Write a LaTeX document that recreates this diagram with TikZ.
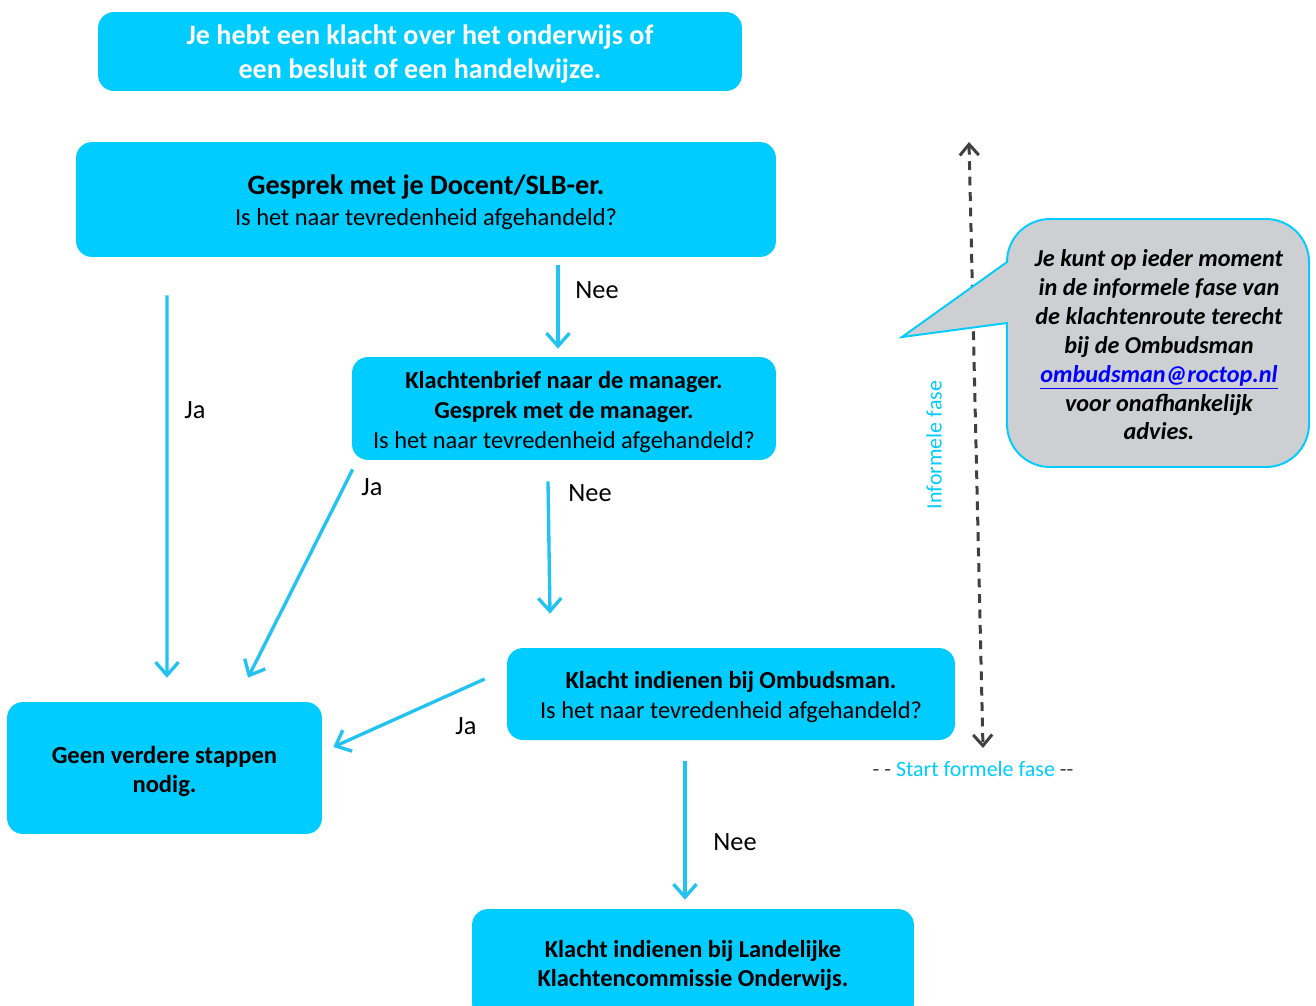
\documentclass[tikz,border=0pt]{standalone}
\usepackage{fontspec}
\setmainfont{Carlito}
\usetikzlibrary{arrows.meta,calc}

\definecolor{boxcyan}{HTML}{00CCFF}
\definecolor{arrowcyan}{HTML}{22C2F2}
\definecolor{callgray}{HTML}{CECFD2}
\definecolor{dashgray}{HTML}{404040}
\definecolor{linkblue}{HTML}{0000FF}

\newcommand{\lowertext}[2]{\raisebox{-#1}[\height][\depth]{\begin{tabular}{@{}c@{}}#2\end{tabular}}}

\tikzset{
  stepbox/.style={
    rectangle, rounded corners=0.32cm,
    fill=boxcyan, inner sep=0pt,
    minimum width=#1, align=center,
    font=\fontsize{13.9}{17.2}\selectfont
  },
  stepbox/.default=8cm,
  flow/.style={-{Straight Barb[length=0.26cm,width=0.46cm]}, line width=1.9pt, arrowcyan},
  phasearrow/.style={{Straight Barb[length=0.22cm,width=0.38cm]}-{Straight Barb[length=0.22cm,width=0.38cm]},
    line width=1.7pt, dashgray, dash pattern=on 5pt off 3.8pt},
  choice/.style={font=\fontsize{15}{17}\selectfont, text=black},
  phase/.style={font=\fontsize{12.5}{14}\selectfont, text=boxcyan},
  callout/.style={fill=callgray, draw=boxcyan, line width=1.1pt},
  callouttext/.style={align=center, font=\fontsize{13.8}{16.4}\selectfont\bfseries\itshape}
}

\begin{document}
\begin{tikzpicture}[x=0.02cm, y=-0.02cm]
  \useasboundingbox (0,0) rectangle (1316,1005);

  % steps of the route
  \node[stepbox=12.88cm, minimum height=1.58cm, text=white,
        font=\fontsize{16}{19.6}\selectfont\bfseries] (klacht) at (420,51.5)
    {\lowertext{0.06cm}{Je hebt een klacht over het onderwijs of\\ een besluit of een handelwijze.}};
  \node[stepbox=14cm, minimum height=2.3cm] (gesprek) at (426,199.5)
    {\lowertext{0.09cm}{{\fontsize{16}{18}\selectfont\bfseries Gesprek met je Docent/SLB-er.}\\[0.5pt]
     Is het naar tevredenheid afgehandeld?}};
  \node[stepbox=8.48cm, minimum height=2.06cm] (manager) at (564,408.5)
    {\lowertext{0.08cm}{\textbf{Klachtenbrief naar de manager.}\\ \textbf{Gesprek met de manager.}\\
     Is het naar tevredenheid afgehandeld?}};
  \node[stepbox=8.96cm, minimum height=1.84cm] (ombuds) at (731,694)
    {\lowertext{0.07cm}{\textbf{Klacht indienen bij Ombudsman.}\\
     Is het naar tevredenheid afgehandeld?}};
  \node[stepbox=6.3cm, minimum height=2.64cm, font=\fontsize{14}{16.5}\selectfont\bfseries]
    (geen) at (164.5,768) {\lowertext{0.08cm}{Geen verdere stappen\\ nodig.}};
  \node[stepbox=8.84cm, minimum height=2.2cm, font=\fontsize{13.9}{16.5}\selectfont\bfseries]
    (landelijk) at (693,964) {\lowertext{0.05cm}{Klacht indienen bij Landelijke\\
     Klachtencommissie Onderwijs.}};

  % answers
  \draw[flow] ($(gesprek.south)+(-259,38)$) -- ($(geen.north)+(2.5,-24)$);
  \draw[flow] ($(gesprek.south)+(132,8)$) -- ($(manager.north)+(-6,-8)$);
  \draw[flow] ($(manager.south west)+(1,9)$) -- ($(geen.north)+(83.5,-24)$);
  \draw[flow] ($(manager.south)+(-16,21)$) -- ($(ombuds.north)+(-181,-34)$);
  \draw[flow] ($(ombuds.west)+(-22,-15)$) -- ($(geen.east)+(11,-21)$);
  \draw[flow] ($(ombuds.south)+(-46,21)$) -- ($(landelijk.north)+(-8,-9)$);

  \node[choice] (ja1) at (195,410) {Ja};
  \node[choice] (nee1) at (597,290) {Nee};
  \node[choice] (ja2) at (372,487) {Ja};
  \node[choice] (nee2) at (590,493) {Nee};
  \node[choice] (ja3) at (466,726) {Ja};
  \node[choice] (nee3) at (735,842) {Nee};

  % informele fase
  \coordinate (fasetop) at (969,142);
  \coordinate (fasebot) at (983,748);
  \draw[phasearrow] (fasetop) -- (fasebot);
  \node[phase, rotate=90] (informeel) at (934,445) {Informele fase};
  \node[phase, text=dashgray] (formeel) at (973,769)
    {- - \textcolor{boxcyan}{Start formele fase} -{}-};

  % ombudsman balloon
  \draw[callout] (1007,262) [rounded corners=0.86cm] -- (1007,219) -- (1309,219)
    -- (1309,467) -- (1007,467) [sharp corners] -- (1007,323) -- (902,337) -- cycle;
  \node[callouttext] (advies) at (1159,345)
    {Je kunt op ieder moment\\ in de informele fase van\\ de klachtenroute terecht\\
     bij de Ombudsman\\ \textcolor{linkblue}{\underline{ombudsman@roctop.nl}}\\
     voor onafhankelijk\\ advies.};

\end{tikzpicture}
\end{document}
